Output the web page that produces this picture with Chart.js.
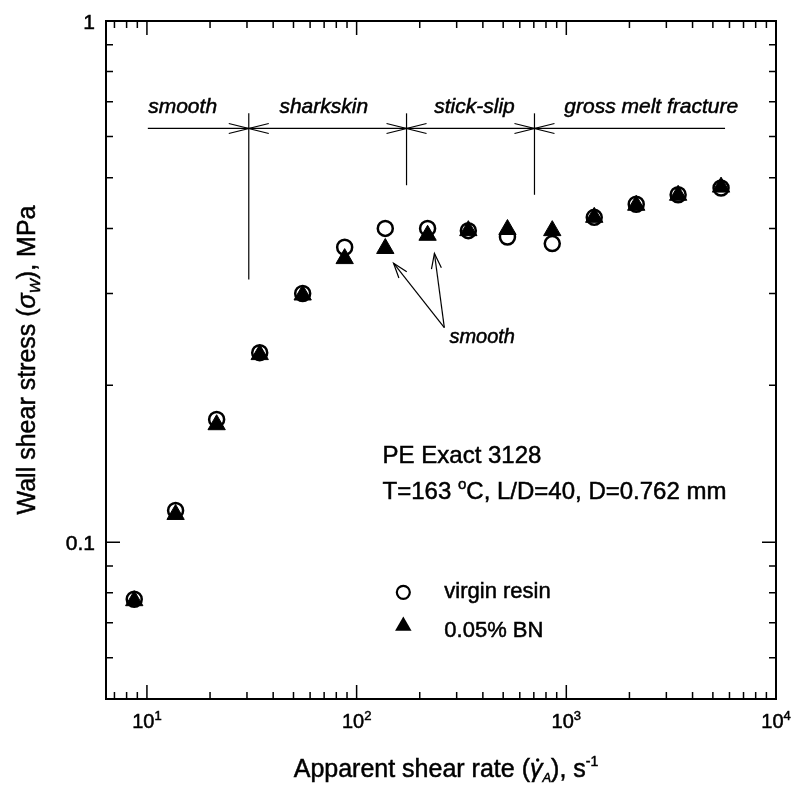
<!DOCTYPE html>
<html>
<head>
<meta charset="utf-8">
<script src="https://cdn.jsdelivr.net/npm/chart.js@4/dist/chart.umd.min.js"></script>
<style>
  html, body { margin: 0; padding: 0; background: #fff; }
</style>
</head>
<body>
<canvas id="flowChart" width="794" height="785"></canvas>
<script>
// Apparent shear rate (1/s) and wall shear stress (MPa)
const shearRate   = [8.7, 13.7, 21.5, 34.5, 55.3, 87.7, 137, 218, 341, 524, 857, 1359, 2155, 3414, 5470];
const virginResin = [0.0777, 0.115, 0.172, 0.231, 0.300, 0.368, 0.400, 0.400, 0.396, 0.385, 0.374, 0.420, 0.445, 0.464, 0.478];
const bnResin     = [0.0772, 0.113, 0.168, 0.229, 0.298, 0.350, 0.366, 0.388, 0.396, 0.398, 0.396, 0.420, 0.443, 0.463, 0.480];

// Axis ranges and major tick labels
const xRange = [6.38, 10000];
const yRange = [0.05, 1];
const xMajorTicks = [10, 100, 1000, 10000];
const xTickExponents = ['1', '2', '3', '4'];
const yMajorTicks = [0.1, 1];
const yTickLabels = ['0.1', '1'];

// Flow regimes along the top (in shear rate / stress units)
const regimeNames = ['smooth', 'sharkskin', 'stick-slip', 'gross melt fracture'];
const regimeCentres = [14.8, 69.7, 365, 2541];
const regimeBounds = [30.6, 173, 705];
const regimeBoundBottoms = [0.319, 0.484, 0.464];
const regimeLineSpan = [10.1, 5715];
const regimeLineY = 0.622;
const regimeTopY = 0.665;

// "smooth" callout: two arrows to the BN points
const calloutTips = [[150, 0.343], [235, 0.358]];
const calloutFoot = [262, 0.258];

const FONT = '"Liberation Sans", Arial, Helvetica, sans-serif';
const font = (size, style) => (style || '') + ' ' + size + 'px ' + FONT;

// scanned original has slightly heavy text: fill plus a thin outline
function txt(ctx, s, x, y) {
    ctx.fillText(s, x, y);
    ctx.save();
    ctx.lineWidth = 0.5;
    ctx.strokeText(s, x, y);
    ctx.restore();
}

// draw a sequence of text pieces (for sub/superscripts), baseline at y
function drawRuns(ctx, runs, x, y, align) {
    let total = 0;
    runs.forEach(r => {
        ctx.font = r.font;
        r.w = ctx.measureText(r.t).width;
        total += r.w;
    });
    let cx = align === 'center' ? x - total / 2 : (align === 'right' ? x - total : x);
    ctx.textAlign = 'left';
    ctx.textBaseline = 'alphabetic';
    runs.forEach(r => {
        ctx.font = r.font;
        txt(ctx, r.t, cx, y + (r.dy || 0));
        if (r.dot) {
            ctx.beginPath();
            ctx.arc(cx + r.w * 0.62, y - 17, 1.7, 0, Math.PI * 2);
            ctx.fill();
        }
        cx += r.w;
    });
}

function openHead(ctx, tx, ty, fx, fy, len, half) {
    const a = Math.atan2(ty - fy, tx - fx);
    const bx = tx - Math.cos(a) * len, by = ty - Math.sin(a) * len;
    const nx = -Math.sin(a) * half, ny = Math.cos(a) * half;
    ctx.beginPath();
    ctx.moveTo(bx + nx, by + ny);
    ctx.lineTo(tx, ty);
    ctx.lineTo(bx - nx, by - ny);
    ctx.stroke();
}

function logTicks(min, max) {
    const out = [];
    for (let e = Math.floor(Math.log10(min)); e <= Math.ceil(Math.log10(max)); e++) {
        for (let m = 1; m < 10; m++) {
            const v = m * Math.pow(10, e);
            if (v >= min * 0.999 && v <= max * 1.001) out.push({ v: v, major: m === 1 });
        }
    }
    return out;
}

const decorations = {
    id: 'decorations',
    afterDraw(chart) {
        const ctx = chart.ctx;
        const a = chart.chartArea;
        const xs = chart.scales.x, ys = chart.scales.y;
        const X = v => xs.getPixelForValue(v);
        const Y = v => ys.getPixelForValue(v);
        ctx.save();
        ctx.strokeStyle = '#000';
        ctx.fillStyle = '#000';

        // frame
        ctx.lineWidth = 2;
        ctx.strokeRect(a.left, a.top, a.right - a.left, a.bottom - a.top);

        // inward ticks on all four sides
        ctx.lineWidth = 1.5;
        logTicks(xRange[0], xRange[1]).forEach(t => {
            const px = X(t.v), len = t.major ? 14 : 7;
            ctx.beginPath();
            ctx.moveTo(px, a.bottom); ctx.lineTo(px, a.bottom - len);
            ctx.moveTo(px, a.top); ctx.lineTo(px, a.top + len);
            ctx.stroke();
        });
        logTicks(yRange[0], yRange[1]).forEach(t => {
            const py = Y(t.v), len = t.major ? 14 : 7;
            ctx.beginPath();
            ctx.moveTo(a.left, py); ctx.lineTo(a.left + len, py);
            ctx.moveTo(a.right, py); ctx.lineTo(a.right - len, py);
            ctx.stroke();
        });

        // tick labels
        xMajorTicks.forEach((v, i) => {
            drawRuns(ctx, [
                { t: '10', font: font(20) },
                { t: xTickExponents[i], font: font(13), dy: -8 }
            ], X(v), a.bottom + 29, 'center');
        });
        ctx.font = font(21);
        ctx.textAlign = 'right';
        ctx.textBaseline = 'middle';
        yMajorTicks.forEach((v, i) => txt(ctx, yTickLabels[i], a.left - 11, Y(v) + 2));

        // axis titles
        drawRuns(ctx, [
            { t: 'Apparent shear rate (', font: font(25) },
            { t: 'γ', font: font(25, 'italic'), dot: true },
            { t: 'A', font: font(13, 'italic'), dy: 5 },
            { t: '), s', font: font(25) },
            { t: '-1', font: font(14), dy: -11 }
        ], (a.left + a.right) / 2 + 5, 777, 'center');

        ctx.save();
        ctx.translate(35, (a.top + a.bottom) / 2);
        ctx.rotate(-Math.PI / 2);
        drawRuns(ctx, [
            { t: 'Wall shear stress (', font: font(25) },
            { t: 'σ', font: font(25, 'italic') },
            { t: 'W', font: font(15, 'italic'), dy: 5 },
            { t: '), MPa', font: font(25) }
        ], 0, 0, 'center');
        ctx.restore();

        // flow regime bar
        ctx.lineWidth = 1.2;
        const ly = Y(regimeLineY);
        ctx.beginPath();
        ctx.moveTo(X(regimeLineSpan[0]), ly);
        ctx.lineTo(X(regimeLineSpan[1]), ly);
        ctx.stroke();
        regimeBounds.forEach((b, i) => {
            const bx = X(b);
            ctx.beginPath();
            ctx.moveTo(bx, Y(regimeTopY));
            ctx.lineTo(bx, Y(regimeBoundBottoms[i]));
            ctx.stroke();
            openHead(ctx, bx, ly, bx - 30, ly, 20, 5);
            openHead(ctx, bx, ly, bx + 30, ly, 20, 5);
        });
        ctx.textAlign = 'center';
        ctx.textBaseline = 'alphabetic';
        ctx.font = font(21, 'italic');
        regimeNames.forEach((n, i) => txt(ctx, n, X(regimeCentres[i]), Y(regimeTopY)));

        // callout
        const fx = X(calloutFoot[0]), fy = Y(calloutFoot[1]);
        calloutTips.forEach(tp => {
            const tx = X(tp[0]), ty = Y(tp[1]);
            ctx.beginPath();
            ctx.moveTo(fx, fy); ctx.lineTo(tx, ty);
            ctx.stroke();
            openHead(ctx, tx, ty, fx, fy, 15, 5);
        });
        ctx.textAlign = 'left';
        ctx.font = font(20, 'italic');
        txt(ctx, 'smooth', X(277), Y(0.2415));

        // sample description
        ctx.font = font(24);
        txt(ctx, 'PE Exact 3128', X(133), Y(0.1419));
        drawRuns(ctx, [
            { t: 'T=163 ', font: font(24) },
            { t: 'o', font: font(15), dy: -10 },
            { t: 'C, L/D=40, D=0.762 mm', font: font(24) }
        ], X(133), Y(0.121), 'left');

        // legend
        const lx = X(167);
        ctx.lineWidth = 2.2;
        ctx.beginPath();
        ctx.arc(lx, Y(0.0801), 6.5, 0, Math.PI * 2);
        ctx.stroke();
        const ty = Y(0.069), r = 9.5;
        ctx.beginPath();
        ctx.moveTo(lx, ty - r);
        ctx.lineTo(lx + r * 0.866, ty + r / 2);
        ctx.lineTo(lx - r * 0.866, ty + r / 2);
        ctx.closePath();
        ctx.fill();
        ctx.font = font(22);
        ctx.textAlign = 'left';
        txt(ctx, chart.data.datasets[0].label, X(262), Y(0.078));
        txt(ctx, chart.data.datasets[1].label, X(262), Y(0.0659));

        ctx.restore();
    }
};

const ctx = document.getElementById('flowChart').getContext('2d');
const toPoints = ys => shearRate.map((x, i) => ({ x: x, y: ys[i] }));

new Chart(ctx, {
    type: 'scatter',
    data: {
        datasets: [
            {
                label: 'virgin resin',
                data: toPoints(virginResin),
                pointStyle: 'circle',
                pointRadius: 7.5,
                borderWidth: 2.5,
                borderColor: '#000',
                backgroundColor: 'rgba(0,0,0,0)',
                order: 1
            },
            {
                label: '0.05% BN',
                data: toPoints(bnResin),
                pointStyle: 'triangle',
                pointRadius: 10,
                borderWidth: 1,
                borderColor: '#000',
                backgroundColor: '#000',
                order: 0
            }
        ]
    },
    options: {
        responsive: false,
        animation: false,
        layout: { padding: { left: 106, top: 21, right: 18, bottom: 86 } },
        scales: {
            x: { type: 'logarithmic', min: xRange[0], max: xRange[1], display: false },
            y: { type: 'logarithmic', min: yRange[0], max: yRange[1], display: false }
        },
        plugins: {
            legend: { display: false },
            tooltip: { enabled: false }
        }
    },
    plugins: [decorations]
});
</script>
</body>
</html>
